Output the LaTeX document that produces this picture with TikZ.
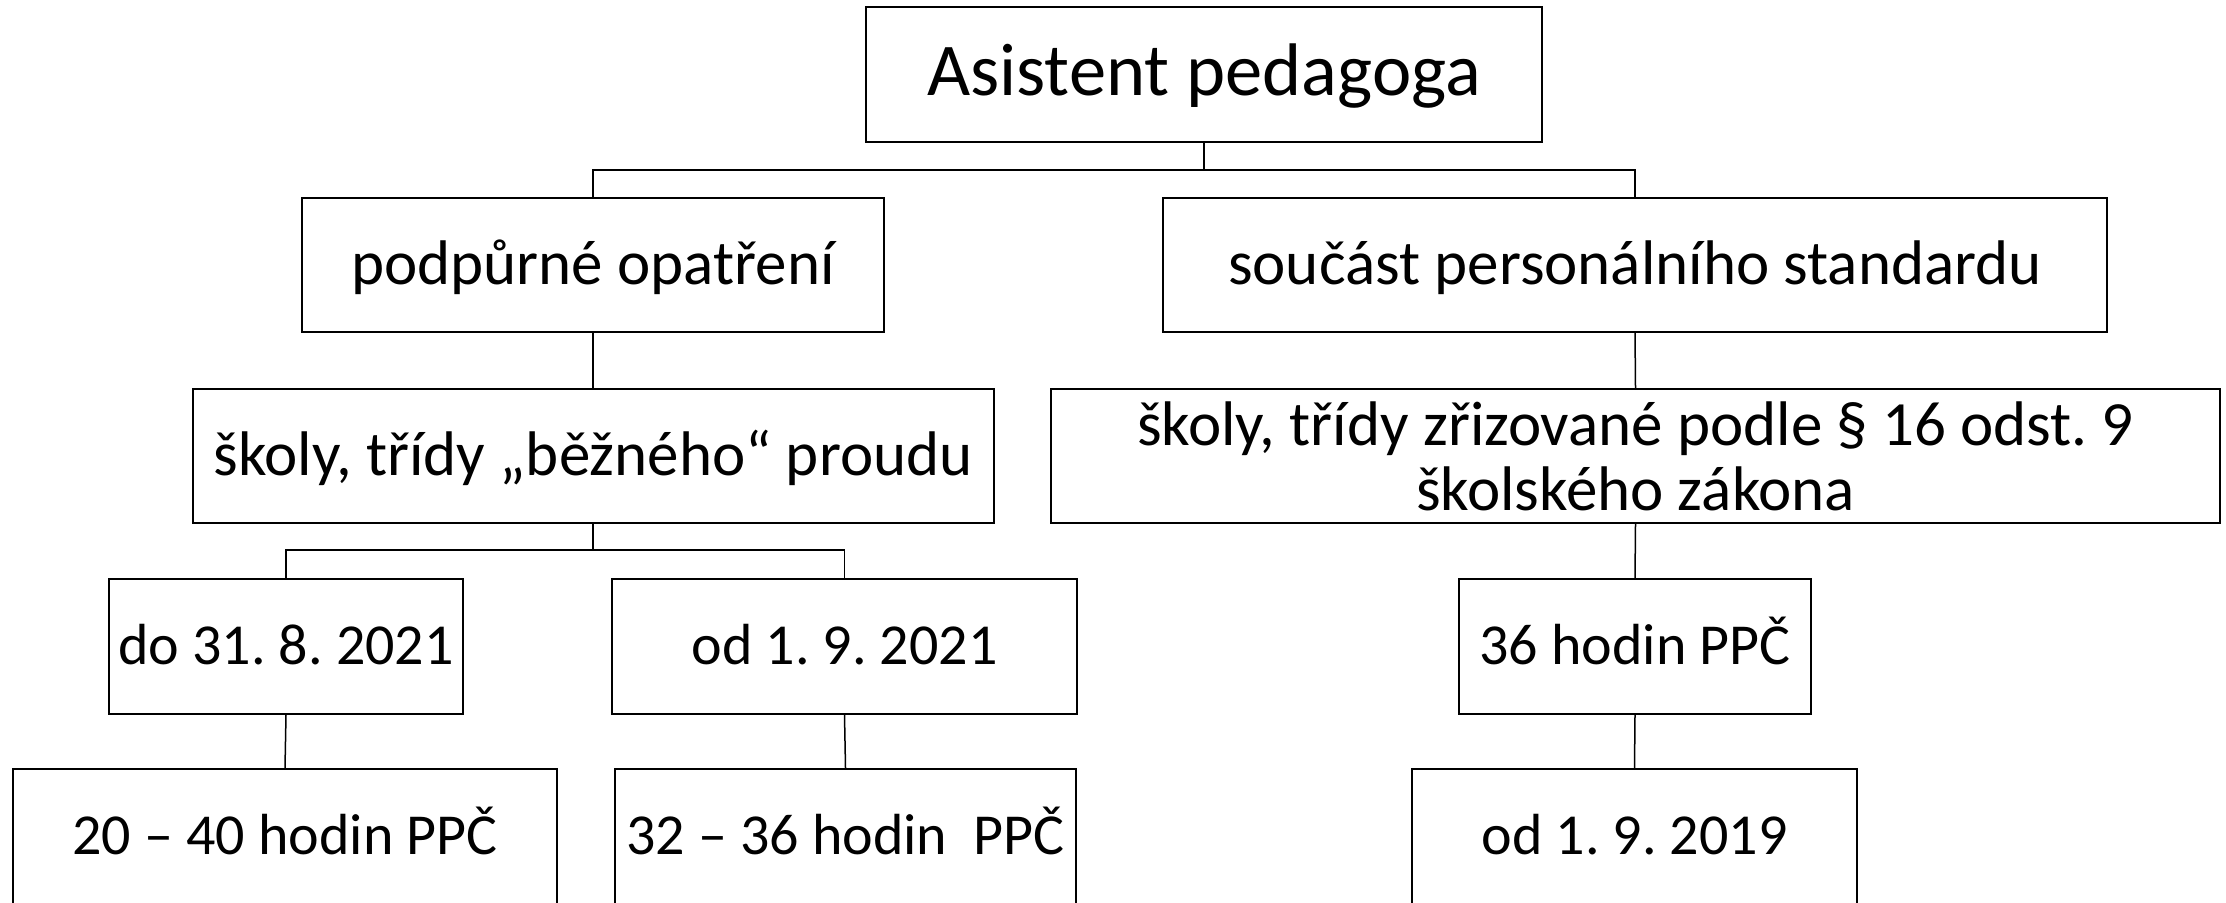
\documentclass[tikz,border=0pt]{standalone}
\usepackage{fontspec}
\setmainfont{Carlito}
\frenchspacing
\begin{document}
\begin{tikzpicture}[x=0.5pt,y=-0.5pt,
  box/.style={draw=black, line width=1pt, fill=white, inner sep=0pt, rectangle, align=center},
  lvtop/.style={font=\fontsize{37.25pt}{44pt}\selectfont, text height=20.5pt, text depth=0pt},
  lvmid/.style={font=\fontsize{31.5pt}{32.5pt}\selectfont},
  oneline/.style={text height=19.9pt, text depth=0pt},
  lvlow/.style={font=\fontsize{29pt}{35pt}\selectfont, text height=18.3pt, text depth=0pt},
  conn/.style={draw=black, line width=0.75pt}]
\useasboundingbox (0,0) rectangle (2226,902);
\clip (0,0) rectangle (2226,902);
% level 1
\node[box, lvtop, minimum width=676pt/2, minimum height=135pt/2] (A) at (1204,74.5) {Asistent pedagoga};
% level 2
\node[box, lvmid, oneline, minimum width=582pt/2, minimum height=134pt/2] (B1) at (593,265) {podpůrné opatření};
\node[box, lvmid, oneline, minimum width=944pt/2, minimum height=134pt/2] (B2) at (1635,265) {součást personálního standardu};
% level 3
\node[box, lvmid, oneline, minimum width=801pt/2, minimum height=134pt/2] (C1) at (593,456) {školy, třídy „běžného“ proudu};
\node[box, lvmid, minimum width=1169pt/2, minimum height=134pt/2] (C2) at (1635.5,456) {školy, třídy zřizované podle § 16 odst. 9\\školského zákona};
% level 4
\node[box, lvlow, minimum width=354pt/2, minimum height=135pt/2] (D1) at (286,646.5) {do 31. 8. 2021};
\node[box, lvlow, minimum width=465pt/2, minimum height=135pt/2] (D2) at (844.5,646.5) {od 1. 9. 2021};
\node[box, lvlow, minimum width=352pt/2, minimum height=135pt/2] (D3) at (1635,646.5) {36 hodin PPČ};
% level 5
\node[box, lvlow, minimum width=544pt/2, minimum height=135pt/2] (E1) at (285,836.5) {20 – 40 hodin PPČ};
\node[box, lvlow, minimum width=461pt/2, minimum height=135pt/2] (E2) at (845.5,836.5) {32 – 36 hodin~~PPČ};
\node[box, lvlow, minimum width=445pt/2, minimum height=135pt/2] (E3) at (1634.5,836.5) {od 1. 9. 2019};
% junctions
\coordinate (j1) at (1204,170);
\coordinate (j2) at (593,550);
% connectors
\draw[conn] (A.south) -- (j1);
\draw[conn] (B1.north) |- (j1) -| (B2.north);
\draw[conn] (B1.south) -- (C1.north);
\draw[conn] (B2.south) -- (C2.north);
\draw[conn] (C1.south) -- (j2);
\draw[conn] (D1.north) |- (j2) -| (D2.north);
\draw[conn] (D1.south) -- (E1.north);
\draw[conn] (D2.south) -- (E2.north);
\draw[conn] (C2.south) -- (D3.north);
\draw[conn] (D3.south) -- (E3.north);
\end{tikzpicture}
\end{document}
